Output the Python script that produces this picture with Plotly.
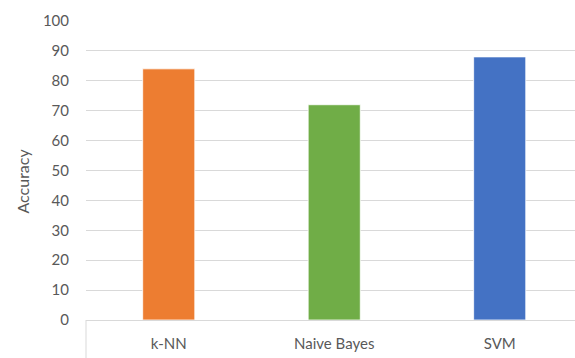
import plotly.graph_objects as go

# Classifier accuracy (%)
classifiers = ["k-NN", "Naive Bayes", "SVM"]
accuracy = [84, 72, 88]
bar_colors = ["#ED7D31", "#70AD47", "#4472C4"]
y_ticks = [0, 10, 20, 30, 40, 50, 60, 70, 80, 90, 100]

W, H = 575, 358
M_L, M_R, M_T, M_B = 86, 0, 21, 38

fig = go.Figure(
    go.Bar(
        x=classifiers,
        y=accuracy,
        marker=dict(color=bar_colors, line=dict(color="white", width=0.8)),
        width=0.315,
    )
)

label_font = dict(family="Lato, Carlito, sans-serif", size=15, color="#595959")

fig.update_layout(
    width=W,
    height=H,
    margin=dict(l=M_L, r=M_R, t=M_T, b=M_B, pad=0),
    paper_bgcolor="white",
    plot_bgcolor="white",
    showlegend=False,
    font=label_font,
    xaxis=dict(
        range=[-0.5, 2.455],
        showgrid=False,
        showline=True,
        linecolor="#D9D9D9",
        linewidth=1,
        ticks="",
        ticklabelstandoff=10,
        tickfont=label_font,
        zeroline=False,
    ),
    yaxis=dict(
        range=[0, 100],
        tickvals=y_ticks,
        showgrid=True,
        gridcolor="#D9D9D9",
        gridwidth=1,
        showline=False,
        zeroline=False,
        ticks="",
        ticklabelstandoff=16,
        tickfont=label_font,
    ),
    annotations=[
        dict(
            text="Accuracy",
            textangle=-90,
            xref="paper",
            yref="paper",
            x=(21.5 - M_L) / (W - M_L - M_R),
            y=(H - M_B - 181) / (H - M_T - M_B),
            xanchor="center",
            yanchor="middle",
            showarrow=False,
            font=dict(family="Lato, Carlito, sans-serif", size=16, color="#595959"),
        )
    ],
    shapes=[
        # left border running from the category axis down through the label band
        dict(
            type="line",
            xref="x domain",
            yref="y domain",
            x0=0,
            x1=0,
            y0=0,
            y1=-M_B / (H - M_T - M_B),
            line=dict(color="#D9D9D9", width=1),
        )
    ],
)

fig.write_html("out.html")
